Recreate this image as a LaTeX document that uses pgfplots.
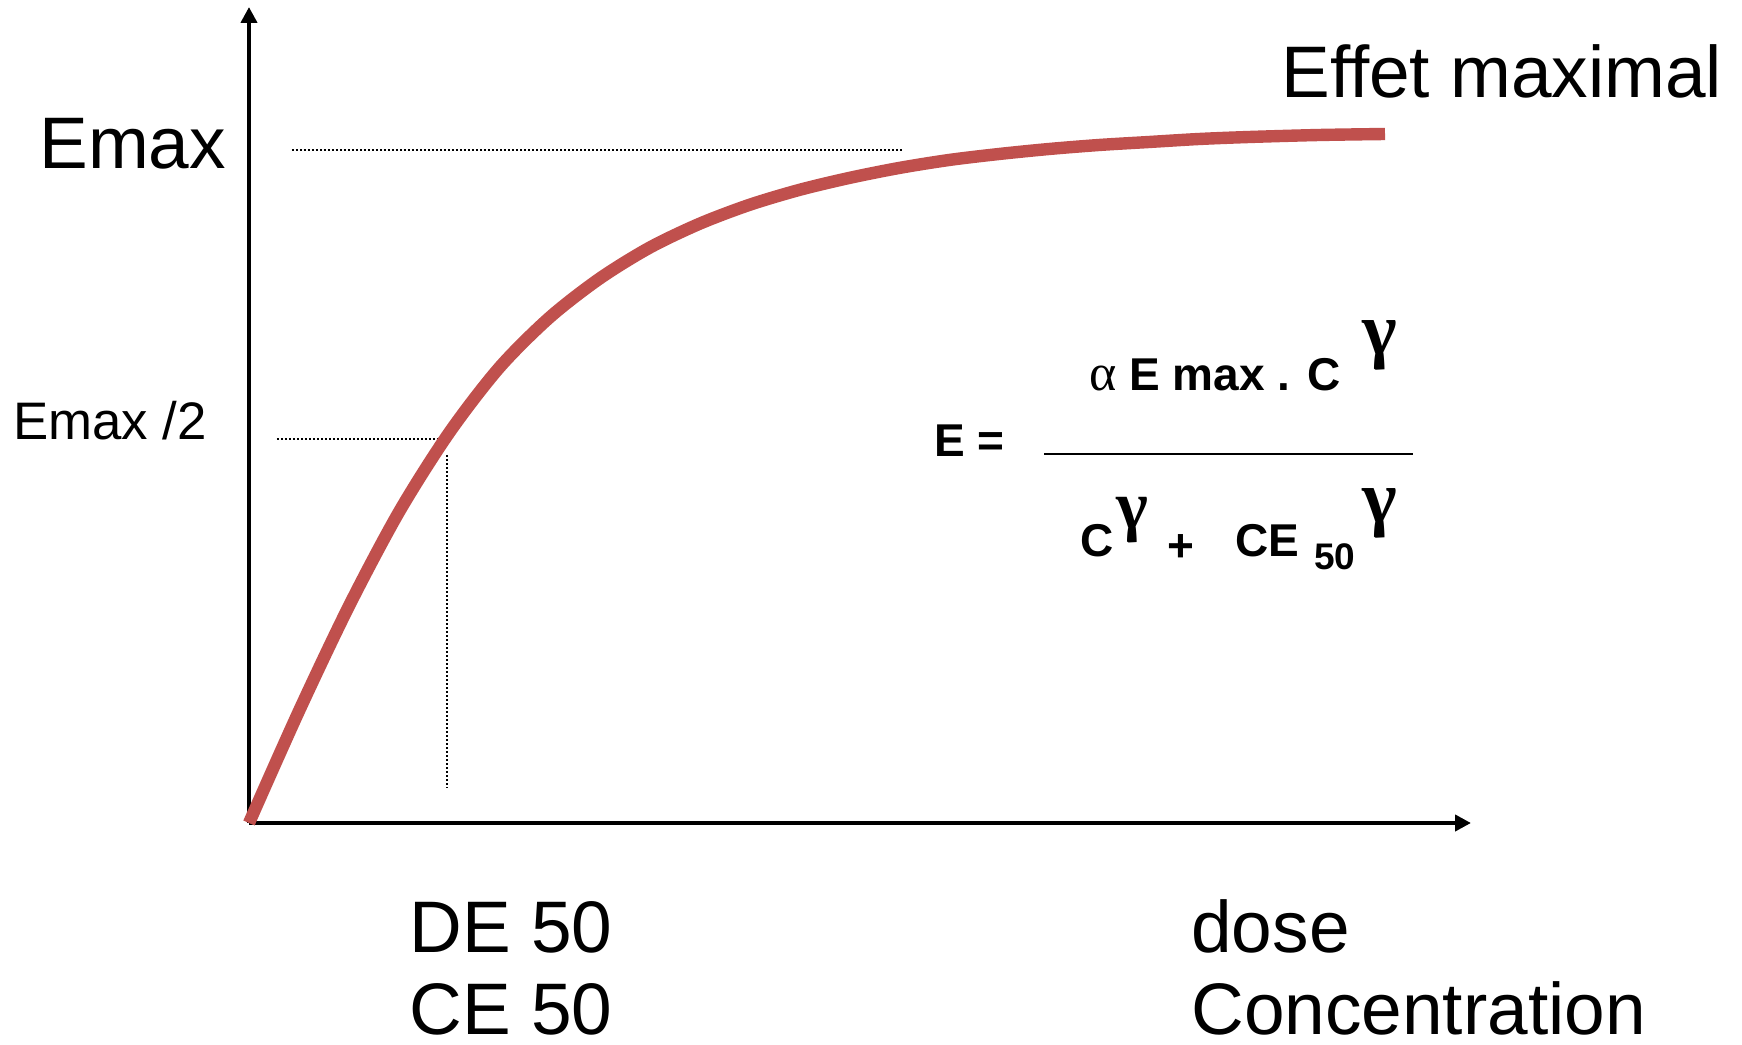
\documentclass[border=0pt]{standalone}
\usepackage{pgfplots}
\pgfplotsset{compat=1.18}
\usepackage{fontspec}
\setmainfont{Liberation Sans}
\newfontfamily\greekfont{Liberation Serif}
\usetikzlibrary{arrows.meta}
\definecolor{curvered}{HTML}{C0504D}
\begin{document}
\begin{tikzpicture}
\begin{axis}[
  scale only axis,
  width=611pt, height=408pt,
  xmin=0, xmax=1222, ymin=0, ymax=816,
  axis x line=bottom, axis y line=left,
  axis line style={line width=2pt, -{Triangle[length=8pt,width=8pt]}},
  ticks=none,
  clip=false,
]
% corners of the whole picture
\coordinate (bbSW) at (axis cs:-249,-222);
\coordinate (bbNE) at (axis cs:1493,823);

% dotted guides
\addplot[black, line width=1pt, dash pattern=on 1pt off 1pt] coordinates {(43,673) (653,673)};
\addplot[black, line width=1pt, dash pattern=on 1pt off 1pt] coordinates {(28,384) (198,384)};
\addplot[black, line width=1pt, dash pattern=on 1pt off 1pt] coordinates {(198,368) (198,35)};

% effect curve
\addplot[curvered, line width=6.2pt, smooth] coordinates {
(0,0) (50,112) (100,217) (150,311) (200,390) (250,455) (300,505) (350,544)
(400,575) (450,599) (500,618) (550,633) (600,645) (650,655) (700,663)
(750,669) (800,674) (850,678) (900,681) (950,684) (1000,686) (1070,688) (1136,689)
};

% labels
\node[anchor=base west, inner sep=0pt, font=\fontsize{36.5}{40}\selectfont] at (axis cs:-210,654) {Emax};
\node[anchor=base west, inner sep=0pt, font=\fontsize{26.4}{30}\selectfont] at (axis cs:-236,384) {Emax /2};
\node[anchor=base west, inner sep=0pt, font=\fontsize{36.5}{40}\selectfont] at (axis cs:1032,725) {Effet maximal};
\node[anchor=base west, inner sep=0pt, font=\fontsize{36.5}{40}\selectfont] at (axis cs:160,-129) {DE 50};
\node[anchor=base west, inner sep=0pt, font=\fontsize{36.5}{40}\selectfont] at (axis cs:160,-211) {CE 50};
\node[anchor=base west, inner sep=0pt, font=\fontsize{36.5}{40}\selectfont] at (axis cs:942,-129) {dose};
\node[anchor=base west, inner sep=0pt, font=\fontsize{36.5}{40}\selectfont] at (axis cs:942,-211) {Concentration};

% formula
\node[anchor=base west, inner sep=0pt, font=\fontsize{23}{26}\selectfont\bfseries] at (axis cs:685,366) {E =};
\draw[line width=1pt] (axis cs:795,369) -- (axis cs:1164,369);
\node[anchor=base west, inner sep=0pt, font=\fontsize{23}{26}\selectfont] at (axis cs:840,432) {{\greekfont\fontsize{26}{28}\selectfont α} \textbf{E max . C}};
\node[anchor=base west, inner sep=0pt, font=\fontsize{37}{40}\selectfont\greekfont\bfseries] at (axis cs:1113,468) {γ};
\node[anchor=base west, inner sep=0pt, font=\fontsize{23}{26}\selectfont\bfseries] at (axis cs:831,267) {C};
\node[anchor=base west, inner sep=0pt, font=\fontsize{34}{36}\selectfont\greekfont\bfseries] at (axis cs:867,295) {γ};
\node[anchor=base west, inner sep=0pt, font=\fontsize{23}{26}\selectfont\bfseries] at (axis cs:918,262) {+};
\node[anchor=base west, inner sep=0pt, font=\fontsize{23}{26}\selectfont\bfseries] at (axis cs:986,267) {CE};
\node[anchor=base west, inner sep=0pt, font=\fontsize{18.5}{20}\selectfont\bfseries] at (axis cs:1065,254) {50};
\node[anchor=base west, inner sep=0pt, font=\fontsize{37}{40}\selectfont\greekfont\bfseries] at (axis cs:1113,300) {γ};
\end{axis}
\pgfresetboundingbox
\path[use as bounding box] (bbSW) rectangle (bbNE);
\end{tikzpicture}
\end{document}
